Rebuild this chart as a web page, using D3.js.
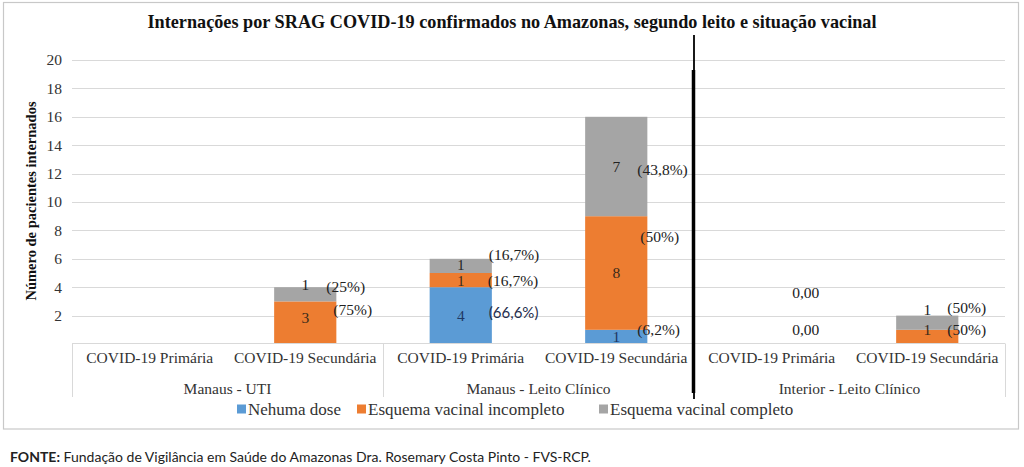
<!DOCTYPE html>
<html><head><meta charset="utf-8">
<script src="https://cdn.jsdelivr.net/npm/d3@7"></script>
<style>
html,body{margin:0;padding:0;background:#fff;}
svg{display:block;}
</style></head>
<body>
<svg id="chart" width="1024" height="467"></svg>
<script>
// ---------- DATA ----------
const title = "Internações por SRAG COVID-19 confirmados no Amazonas, segundo leito e situação vacinal";
const yTitle = "Número de pacientes internados";
const groups = ["Manaus - UTI", "Manaus - Leito Clínico", "Interior - Leito Clínico"];
const subcats = ["COVID-19 Primária", "COVID-19 Secundária"];
const seriesNames = ["Nehuma dose", "Esquema vacinal incompleto", "Esquema vacinal completo"];
const nenhumaDose = [0, 0, 4, 1, 0, 0];
const incompleto  = [0, 3, 1, 8, 0, 1];
const completo    = [0, 1, 1, 7, 0, 1];
const pctNenhuma    = ["", "", "(66,6%)", "(6,2%)", "", ""];
const pctIncompleto = ["", "(75%)", "(16,7%)", "(50%)", "0,00", "(50%)"];
const pctCompleto   = ["", "(25%)", "(16,7%)", "(43,8%)", "0,00", "(50%)"];
const yTicks = [2, 4, 6, 8, 10, 12, 14, 16, 18, 20];
const source = "Fundação de Vigilância em Saúde do Amazonas Dra. Rosemary Costa Pinto - FVS-RCP.";

// ---------- LAYOUT ----------
const colors = ["#5b9bd5", "#ed7d31", "#a5a5a5"];
const serif = "'Liberation Serif', 'Times New Roman', serif";
const svg = d3.select("#chart");
const pLeft = 72, pRight = 1005, pTop = 60, pBottom = 344;

const keys = [];
groups.forEach((g, gi) => subcats.forEach((s, si) => keys.push(gi * 2 + si)));
const x = d3.scaleBand().domain(keys).range([pLeft, pRight]).paddingInner(0.6).paddingOuter(0.3);
const y = d3.scaleLinear().domain([0, 20]).range([pBottom, pTop]);

// outer frame
svg.append("rect").attr("x", 3.5).attr("y", 2.5).attr("width", 1015).attr("height", 426.5)
  .attr("fill", "none").attr("stroke", "#c8c8c8").attr("stroke-width", 1.2);

// title
svg.append("text").attr("x", 512).attr("y", 28).attr("text-anchor", "middle")
  .attr("font-family", serif).attr("font-weight", "bold").attr("font-size", 19)
  .attr("textLength", 729).attr("lengthAdjust", "spacingAndGlyphs")
  .attr("fill", "#111").text(title);

// grid
svg.append("g").selectAll("line").data(yTicks).join("line")
  .attr("x1", pLeft).attr("x2", pRight)
  .attr("y1", d => Math.round(y(d)) + 0.5).attr("y2", d => Math.round(y(d)) + 0.5)
  .attr("stroke", "#d9d9d9").attr("stroke-width", 1);

// y axis labels
const yAxis = d3.axisLeft(y).tickValues(yTicks).tickSize(0).tickPadding(0);
const ga = svg.append("g").attr("transform", `translate(62,0)`).call(yAxis);
ga.select(".domain").remove();
ga.selectAll("text").attr("font-family", serif).attr("font-size", 15.5).attr("fill", "#333");

// y title
svg.append("text").attr("transform", "translate(36,201) rotate(-90)").attr("text-anchor", "middle")
  .attr("font-family", serif).attr("font-weight", "bold").attr("font-size", 14.5)
  .attr("fill", "#111").text(yTitle);

// stacked bars
const rows = keys.map(i => ({key: i, n: nenhumaDose[i], inc: incompleto[i], comp: completo[i]}));
const stack = d3.stack().keys(["n", "inc", "comp"])(rows);
svg.append("g").selectAll("g").data(stack).join("g").attr("fill", (d, i) => colors[i])
  .selectAll("rect").data(d => d).join("rect")
  .attr("x", d => x(d.data.key)).attr("width", x.bandwidth())
  .attr("y", d => y(d[1])).attr("height", d => y(d[0]) - y(d[1]));

// value labels (centred in segments; small shifts as in source)
const numShift = [[0,0,0,0,0,0],[0,-5,1,0,0,-7],[0,-10,-1,0,0,-13]];
const numColor = ["#1f3864", "#3a2a1a", "#222"];
stack.forEach((s, si) => {
  s.forEach((d, i) => {
    const v = d[1] - d[0];
    if (!v) return;
    svg.append("text").attr("x", x(d.data.key) + x.bandwidth() / 2)
      .attr("y", (y(d[0]) + y(d[1])) / 2 + numShift[si][i]).attr("dy", "0.35em")
      .attr("text-anchor", "middle").attr("font-family", serif)
      .attr("font-size", v === 1 && i === 2 ? 14.5 : 15.5)
      .attr("fill", numColor[si]).text(v);
  });
});

// percentage labels (positions as in source, in data units)
const pctLists = [pctNenhuma, pctIncompleto, pctCompleto];
const pctPos = [
  [null, null, 2.2, 0.99, null, null],
  [null, 2.4, 4.44, 7.6, 0.99, 0.99],
  [null, 4.05, 6.27, 12.3, 3.6, 2.6]
];
const pctDx = [
  [0, 0, -3, -10, 0, 0],
  [0, -3, -4, -7, 0, -11],
  [0, -10, -3, -10, 0, -11]
];
pctLists.forEach((arr, si) => arr.forEach((t, i) => {
  if (!t) return;
  const zero = t === "0,00";
  const sans = t === "(66,6%)";
  svg.append("text")
    .attr("x", zero ? x(i) + x.bandwidth() / 2 + 34 : x(i) + x.bandwidth() + pctDx[si][i])
    .attr("y", y(pctPos[si][i])).attr("dy", "0.35em")
    .attr("text-anchor", zero ? "middle" : "start")
    .attr("font-family", sans ? "Lato, 'Open Sans', sans-serif" : serif)
    .attr("font-size", sans ? 15 : 15.5)
    .attr("fill", sans ? "#1f2d4d" : "#222").text(t);
}));

// category box
const box = svg.append("g").attr("stroke", "#d9d9d9").attr("stroke-width", 1).attr("fill", "none");
box.append("line").attr("x1", pLeft).attr("x2", pRight).attr("y1", 343.5).attr("y2", 343.5);
[0, 2, 4, 6].forEach(k => {
  const xx = k < 6 ? x(k) - x.step() * x.paddingInner() / 2 : pRight;
  box.append("line").attr("x1", Math.round(xx) + 0.5).attr("x2", Math.round(xx) + 0.5)
    .attr("y1", 343.5).attr("y2", 397);
});
svg.append("g").selectAll("text").data(keys).join("text")
  .attr("x", d => x(d) + x.bandwidth() / 2).attr("y", 363).attr("text-anchor", "middle")
  .attr("font-family", serif).attr("font-size", 15.5).attr("fill", "#333")
  .text(d => subcats[d % 2]);
svg.append("g").selectAll("text").data(groups).join("text")
  .attr("x", (d, gi) => (x(gi * 2) + x(gi * 2 + 1) + x.bandwidth()) / 2).attr("y", 394)
  .attr("text-anchor", "middle").attr("font-family", serif).attr("font-size", 15.5)
  .attr("fill", "#333").text(d => d);

// thick separator
const sepX = x(4) - x.step() * x.paddingInner() / 2;
svg.append("line").attr("x1", sepX).attr("x2", sepX).attr("y1", 35).attr("y2", 399)
  .attr("stroke", "#000").attr("stroke-width", 1.8);
svg.append("line").attr("x1", sepX - 0.5).attr("x2", sepX - 0.5).attr("y1", 70).attr("y2", 393)
  .attr("stroke", "#000").attr("stroke-width", 3.5);

// legend
const legX = [237, 357, 599];
const leg = svg.append("g").selectAll("g").data(seriesNames).join("g")
  .attr("transform", (d, i) => `translate(${legX[i]},409)`);
leg.append("rect").attr("x", 0).attr("y", -4.5).attr("width", 9).attr("height", 9)
  .attr("fill", (d, i) => colors[i]);
leg.append("text").attr("x", 11).attr("dy", "0.35em").attr("font-family", serif)
  .attr("font-size", 17).attr("fill", "#333").text(d => d);

// footer
const ft = svg.append("text").attr("x", 10).attr("y", 462)
  .attr("font-family", "Lato, 'Open Sans', sans-serif").attr("font-size", 14).attr("fill", "#222");
ft.append("tspan").attr("font-weight", "bold").text("FONTE:");
ft.append("tspan").text(" " + source);
</script>
</body></html>
